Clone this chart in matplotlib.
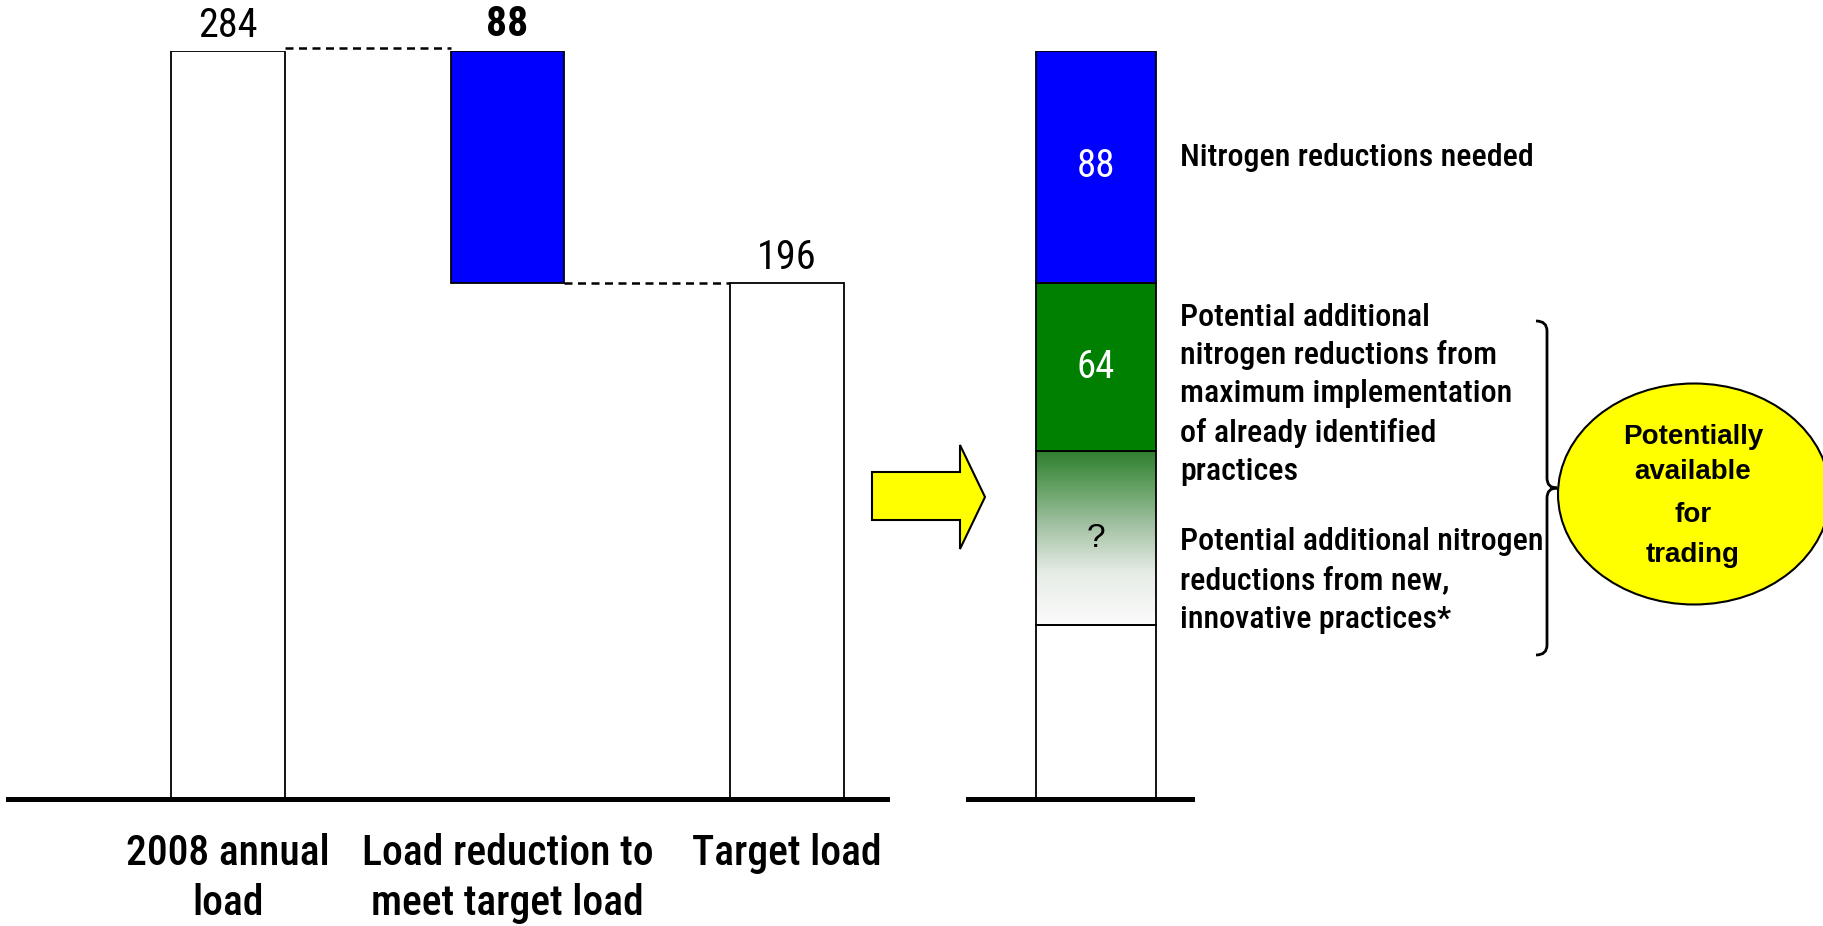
import matplotlib
matplotlib.use("Agg")
import matplotlib.pyplot as plt
from matplotlib.patches import Polygon, Ellipse, PathPatch
from matplotlib.path import Path
from matplotlib.colors import LinearSegmentedColormap
import numpy as np

NARROW = ["Liberation Sans Narrow", "Arial Narrow", "Roboto Condensed",
          "Archivo Narrow", "IBM Plex Sans Condensed", "DejaVu Sans"]
ARIAL = ["Liberation Sans", "DejaVu Sans"]

# ---------------------------------------------------------------------------
# Data
# ---------------------------------------------------------------------------
# waterfall: 2008 load, reduction needed, target load
categories = ["2008 annual\nload", "Load reduction to\nmeet target load", "Target load"]
load_values = [284, 88, 196]

# stacked column, bottom to top: remaining load, new practices (?),
# identified practices, reductions needed
stack_values = [66, 66, 64, 88]
stack_labels = ["", "?", "64", "88"]

note_needed = ["Nitrogen reductions needed"]
note_identified = ["Potential additional", "nitrogen reductions from",
                   "maximum implementation", "of already identified", "practices"]
note_new = ["Potential additional nitrogen", "reductions from new,",
            "innovative practices*"]
bubble_lines = ["Potentially", "available", "for", "trading"]

C_BLUE = "#0000ff"
C_GREEN = "#008000"
C_YELLOW = "#ffff00"

W, H = 1823, 926


def fx(px):
    return px / W


def fy(py):
    return 1 - py / H


fig = plt.figure(figsize=(W / 100, H / 100), dpi=100)

# ---------------------------------------------------------------------------
# Left: waterfall
# ---------------------------------------------------------------------------
ax = fig.add_axes([fx(8), fy(799), fx(887) - fx(8), fy(51) - fy(799)])
ax.axis("off")
bw = 0.405
total, cut, target = load_values
ax.bar([0, 2], [total, target], width=bw, color="white", edgecolor="black", lw=1.3, zorder=2)
ax.bar(1, cut, bottom=target, width=bw, color=C_BLUE, edgecolor="black", lw=1.3, zorder=2)
ax.plot([bw / 2, 1 - bw / 2], [total + 1, total + 1], color="black", lw=1.8,
        dashes=(3.2, 2.2), zorder=1, clip_on=False)
ax.plot([1 + bw / 2, 2 - bw / 2], [target, target], color="black", lw=1.8,
        dashes=(3.2, 2.2), zorder=1, clip_on=False)
ax.axhline(0, color="black", lw=3.6, zorder=3, clip_on=False)
ax.set_xlim(-0.787, 2.358)
ax.set_ylim(0, 284)

ax.annotate(str(total), (0, total), xytext=(0, 4), textcoords="offset points",
            ha="center", va="bottom", fontsize=29, family=NARROW)
ax.annotate(str(cut), (1, total), xytext=(0, 4), textcoords="offset points",
            ha="center", va="bottom", fontsize=30, fontweight="bold", family=NARROW)
ax.annotate(str(target), (2, target), xytext=(0, 4), textcoords="offset points",
            ha="center", va="bottom", fontsize=29, family=NARROW)

for i, lab in enumerate(categories):
    ax.text(i, -0.046, lab, transform=ax.get_xaxis_transform(), ha="center", va="top",
            fontsize=30, fontweight=500, family=NARROW, linespacing=1.28)

# ---------------------------------------------------------------------------
# Right: stacked column
# ---------------------------------------------------------------------------
ax2 = fig.add_axes([fx(968), fy(799), fx(1192) - fx(968), fy(51) - fy(799)])
ax2.axis("off")
bottoms = np.concatenate([[0], np.cumsum(stack_values)[:-1]])
fills = ["white", "none", C_GREEN, C_BLUE]
for val, bot, fc in zip(stack_values, bottoms, fills):
    ax2.bar(0, val, bottom=bot, width=1.0, color=fc, edgecolor="black", lw=1.3, zorder=2)

fade = LinearSegmentedColormap.from_list(
    "fade", [(0, "#fbfbfb"), (0.3, "#e6ece6"), (0.55, "#a9c5a9"),
             (0.8, "#62a062"), (1.0, "#2f7f2f")])
g_bot, g_top = bottoms[1], bottoms[1] + stack_values[1]
ax2.imshow(np.linspace(0, 1, 256).reshape(-1, 1), cmap=fade, origin="lower",
           extent=(-0.5, 0.5, g_bot, g_top), aspect="auto", zorder=1)

for val, bot, lab in zip(stack_values, bottoms, stack_labels):
    if not lab:
        continue
    if lab == "?":
        ax2.text(0, bot + val / 2, lab, ha="center", va="center", fontsize=24,
                 family=ARIAL, color="black", zorder=4)
    else:
        ax2.text(0, bot + val / 2, lab, ha="center", va="center", fontsize=28,
                 family=NARROW, color="white", zorder=4)

ax2.axhline(0, color="black", lw=3.6, zorder=3, clip_on=False)
ax2.set_xlim(-1.067, 0.8)
ax2.set_ylim(0, 284)

# ---------------------------------------------------------------------------
# Annotations
# ---------------------------------------------------------------------------
arrow_px = [(872, 472), (960, 472), (960, 445), (985, 497),
            (960, 549), (960, 520), (872, 520)]
fig.add_artist(Polygon([(fx(x), fy(y)) for x, y in arrow_px], closed=True,
                       facecolor=C_YELLOW, edgecolor="black", lw=1.5,
                       transform=fig.transFigure))


def note(lines, y0, step=38.5):
    for k, line in enumerate(lines):
        fig.text(fx(1180), fy(y0 + k * step), line, ha="left", va="center",
                 fontsize=23, fontweight=500, family=NARROW)


note(note_needed, 158)
note(note_identified, 317)
note(note_new, 542)

# right-facing brace
brace_px = [(1536, 321), (1547, 321), (1547, 331), (1547, 478), (1547, 488), (1557, 488),
            (1547, 488), (1547, 498), (1547, 645), (1547, 655), (1536, 655)]
codes = [Path.MOVETO, Path.CURVE3, Path.CURVE3, Path.LINETO, Path.CURVE3, Path.CURVE3,
         Path.CURVE3, Path.CURVE3, Path.LINETO, Path.CURVE3, Path.CURVE3]
brace = Path([(fx(x), fy(y)) for x, y in brace_px], codes)
fig.add_artist(PathPatch(brace, facecolor="none", edgecolor="black", lw=2,
                         transform=fig.transFigure))

fig.add_artist(Ellipse((fx(1694), fy(494)), 272 / W, 221 / H, facecolor=C_YELLOW,
                       edgecolor="black", lw=1.5, transform=fig.transFigure))
for line, y in zip(bubble_lines, [437, 472, 515, 555]):
    fig.text(fx(1693), fy(y), line, ha="center", va="center", fontsize=20,
             fontweight="bold", family=ARIAL)

fig.savefig("out.png", dpi=100)
